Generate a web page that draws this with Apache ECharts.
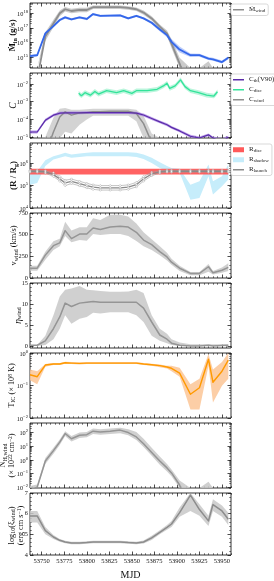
<!DOCTYPE html>
<html><head><meta charset="utf-8">
<script src="https://cdn.jsdelivr.net/npm/echarts@6/dist/echarts.min.js"></script>
<style>html,body{margin:0;padding:0;background:#fff}#c{width:274px;height:581px}</style>
</head><body><div id="c"></div>
<script>
// ================= DATA =================
const mjd = [53737,53745,53754,53763,53770,53776,53783,53792,53800,53807,53815,53826,53837,53846,53855,53863,53872,53881,53889,53894,53903,53915,53925,53935,53940,53950,53957];
const xTickLabels = [53750,53775,53800,53825,53850,53875,53900,53925,53950];

// Panel 1: log10 of mass flow rate (g/s)
const logMdotIn     = [15.05,15.12,16.62,17.12,17.54,17.72,17.58,17.72,17.61,17.95,17.82,17.84,17.86,17.65,17.82,17.65,17.35,16.89,16.50,16.04,15.51,15.12,15.12,14.89,14.84,14.65,14.95];
const logMdotInErr  = [0.1,0.1,0.1,0.08,0.08,0.1,0.08,0.08,0.08,0.08,0.08,0.08,0.08,0.08,0.08,0.08,0.1,0.12,0.15,0.2,0.2,0.12,0.1,0.1,0.1,0.1,0.1];
const logMdotWind   = [12.5,13.5,16.4,17.3,18.0,18.28,18.16,18.23,18.23,18.42,18.42,18.42,18.42,18.37,18.28,18.05,17.65,17.08,16.62,15.92,14.54,12.5,12.5,14.0,12.5,12.5,12.5];
const logMdotWindErr= [0.3,0.3,0.3,0.25,0.2,0.15,0.15,0.15,0.15,0.12,0.12,0.12,0.12,0.12,0.12,0.15,0.15,0.15,0.2,0.3,0.4,0.5,0.5,0.7,0.5,0.5,0.5];

// Panel 2: log10 of C
const logCth    = [-4.71,-4.71,-4.05,-3.76,-3.65,-3.63,-3.63,-3.63,-3.62,-3.62,-3.62,-3.62,-3.62,-3.62,-3.65,-3.75,-3.95,-4.14,-4.30,-4.45,-4.65,-4.95,-5.05,-4.87,-5.05,-5.3,-5.0];
const logCthErr = 0.08;
const mjdDisc   = [53791,53794,53798,53804,53809,53813,53822,53833,53841,53850,53855,53867,53878,53885,53889,53892,53898,53904,53906,53909,53915,53924,53933,53941,53943,53945];
const logCdisc  = [-2.53,-2.66,-2.49,-2.63,-2.42,-2.57,-2.38,-2.49,-2.38,-2.53,-2.38,-2.38,-2.30,-2.11,-1.96,-2.25,-2.11,-1.77,-1.92,-2.15,-2.38,-2.49,-2.63,-2.68,-2.57,-2.44];
const logCdiscErr = 0.13;
const logCwind   = [-7,-7,-6,-4.71,-3.86,-3.57,-3.76,-3.63,-3.63,-3.57,-3.57,-3.54,-3.54,-3.54,-3.67,-4.24,-5.3,-7,-7,-7,-7,-7,-7,-7,-7,-7,-7];
const logCwindHi = [-7,-7,-5,-3.9,-3.4,-3.35,-3.45,-3.45,-3.42,-3.4,-3.4,-3.4,-3.4,-3.4,-3.45,-3.8,-4.8,-7,-7,-7,-7,-7,-7,-7,-7,-7,-7];
const logCwindLo = [-7,-7,-7,-6,-5.5,-4.7,-4.8,-4.3,-4.0,-3.8,-3.8,-3.8,-3.8,-3.8,-4.1,-5.2,-6,-7,-7,-7,-7,-7,-7,-7,-7,-7,-7];

// Panel 3: log10 of R / R_g
const logRdiscLo = 5.49, logRdiscHi = 5.75;
const logRshadowLo = [5.04,5.12,5.87,6.16,6.24,6.31,6.24,6.28,6.31,6.31,6.31,6.31,6.31,6.31,6.28,6.19,6.01,5.79,5.64,5.60,5.57,4.37,4.45,5.42,4.60,4.97,5.27];
const logRshadowHi = [5.57,5.64,6.13,6.31,6.39,6.46,6.39,6.43,6.46,6.49,6.49,6.49,6.49,6.49,6.46,6.39,6.24,6.04,5.87,5.79,5.75,5.04,5.19,5.94,5.19,5.42,5.94];
const logRlaunch    = [5.64,5.64,5.61,5.49,5.30,5.12,5.19,5.09,5.00,4.93,4.90,4.90,4.90,4.93,5.04,5.30,5.52,5.61,5.64,5.64,5.64,5.64,5.64,5.64,5.64,5.64,5.64];
const logRlaunchErr = [0.04,0.04,0.05,0.08,0.1,0.12,0.1,0.1,0.1,0.1,0.1,0.1,0.1,0.1,0.1,0.1,0.08,0.05,0.04,0.04,0.04,0.04,0.04,0.04,0.04,0.04,0.04];

// Panel 4: v_wind (km/s)
const vWind   = [113,113,264,373,405,547,454,507,507,576,559,588,596,588,527,438,385,304,243,182,113,53,53,130,61,89,122];
const vWindHi = [140,140,304,425,454,649,547,585,585,689,669,730,730,710,628,527,446,365,292,223,142,70,70,162,81,122,170];
const vWindLo = [85,85,211,324,365,486,413,438,430,507,495,507,507,486,426,365,324,263,203,154,81,32,32,73,41,61,81];

// Panel 5: eta_wind
const etaWind   = [0.16,0.16,1.2,4.1,6.9,10.2,9.4,10.2,10.4,10.6,10.4,10.4,10.4,10.4,10.4,9.0,5.7,2.6,1.6,0.65,0.16,0.0,0.0,0.16,0.0,0.08,0.16];
const etaWindHi = [0.2,0.2,2.4,7.3,11.8,13.4,13.7,14.3,13.4,13.3,13.1,12.9,12.9,13.0,13.4,12.6,7.3,4.1,2.9,1.6,0.8,0.4,0.4,0.4,0.4,0.4,0.4];
const etaWindLo = [0,0,0.2,1.6,4.1,7.3,5.3,6.5,6.9,7.9,7.7,8.0,8.0,8.0,7.3,5.7,2.4,1.2,0.65,0.2,0,0,0,0,0,0,0];

// Panel 6: log10 of T_IC (x 1e8 K)
const logTic   = [-0.67,-0.73,-0.37,-0.34,-0.34,-0.30,-0.31,-0.32,-0.31,-0.31,-0.31,-0.31,-0.31,-0.31,-0.31,-0.34,-0.36,-0.39,-0.43,-0.47,-0.62,-1.27,-1.07,-0.19,-0.90,-0.56,-0.22];
const logTicHi = [-0.51,-0.56,-0.34,-0.31,-0.31,-0.27,-0.28,-0.29,-0.28,-0.28,-0.28,-0.28,-0.28,-0.28,-0.28,-0.31,-0.33,-0.35,-0.39,-0.39,-0.45,-0.96,-0.79,-0.03,-0.51,-0.28,0.0];
const logTicLo = [-0.84,-0.96,-0.42,-0.37,-0.37,-0.33,-0.34,-0.35,-0.34,-0.34,-0.34,-0.34,-0.34,-0.34,-0.34,-0.37,-0.39,-0.44,-0.48,-0.56,-0.73,-1.74,-1.74,-0.39,-1.52,-1.01,-0.79];

// Panel 7: log10 of N_H,wind (x 1e22 cm^-2)
const logNh   = [-2.2,-2.0,-0.08,0.68,1.3,1.93,1.55,1.8,1.85,2.1,2.05,2.1,2.18,2.0,1.68,1.18,0.55,-0.08,-0.58,-0.95,-1.83,-4,-4,-2.6,-4,-4,-4];
const logNhHi = [-1.9,-1.8,0.15,0.9,1.5,2.1,1.75,2.0,2.05,2.3,2.25,2.3,2.35,2.25,2.05,1.55,0.9,0.25,-0.3,-0.7,-1.5,-3,-3,-1.6,-3,-3,-3];
const logNhLo = [-2.5,-2.3,-0.3,0.45,1.1,1.75,1.35,1.6,1.65,1.9,1.85,1.9,1.95,1.8,1.45,0.95,0.3,-0.35,-0.85,-1.2,-2.2,-5,-5,-3.5,-5,-5,-5];

// Panel 8: log10(xi_wind) (erg cm s^-1)
const logXi   = [5.89,5.89,5.18,4.87,4.71,4.63,4.58,4.58,4.60,4.63,4.63,4.63,4.63,4.60,4.58,4.63,4.83,5.1,5.34,5.5,6.05,6.9,6.2,5.65,6.44,6.13,5.73];
const logXiHi = [6.13,6.13,5.35,4.97,4.78,4.69,4.64,4.64,4.66,4.69,4.69,4.69,4.69,4.66,4.64,4.70,4.93,5.2,5.45,5.65,6.3,7.3,6.45,5.9,6.7,6.4,6.05];
const logXiLo = [5.57,5.57,5.0,4.77,4.64,4.57,4.52,4.52,4.54,4.57,4.57,4.57,4.57,4.54,4.52,4.56,4.73,5.0,5.22,5.35,5.85,6.13,5.9,5.4,6.13,5.85,5.45];

// ================= LAYOUT / STYLE =================
const FONT = 'Liberation Serif';
const X_MIN = 53737, X_MAX = 53960;
const xMinor = []; for (let v = 53740; v <= X_MAX; v += 5) if (v % 25 !== 0) xMinor.push(v);

const RICH = {
  b:  {fontFamily: FONT, fontSize: 6.3, color: '#111', verticalAlign: 'bottom'},
  p:  {fontFamily: FONT, fontSize: 4.6, color: '#111', padding: [0, 0, 3.2, 0], verticalAlign: 'bottom'},
  s:  {fontFamily: FONT, fontSize: 6, color: '#111', padding: [3, 0, 0, 0], verticalAlign: 'top'},
  B:  {fontFamily: FONT, fontSize: 9, fontWeight: 'bold', color: '#111', verticalAlign: 'top'},
  Bs: {fontFamily: FONT, fontSize: 6, fontWeight: 'bold', color: '#111', padding: [4, 0, 0, 0], verticalAlign: 'top'},
  I:  {fontFamily: FONT, fontSize: 9.5, fontStyle: 'italic', color: '#111'},
  n:  {fontFamily: FONT, fontSize: 8.3, color: '#111', verticalAlign: 'top'},
  np: {fontFamily: FONT, fontSize: 5.5, color: '#111', padding: [0, 0, 4, 0], verticalAlign: 'top'}
};

// yTitleX: horizontal centre of the rotated y-axis title
const panels = [
  {yMin: 14.24, yMax: 18.71, kind: 'log', majors: [15,16,17,18], name: '{B|Ṁ}{Bs|in}{B| (g/s)}', yTitleX: 13},
  {yMin: -5.05, yMax: -1.38, kind: 'log', majors: [-5,-4,-3,-2], name: '{I|C}', yTitleX: 13},
  {yMin: 4, yMax: 6.9, kind: 'log', majors: [4,5,6], name: '{B|(R / R}{Bs|g}{B|)}', yTitleX: 14},
  {yMin: 0, yMax: 750, kind: 'lin', majors: [0,250,500,750], minorStep: 50, name: '{n|v}{s|wind}{n| (km/s)}', yTitleX: 14.5},
  {yMin: -0.5, yMax: 15, kind: 'lin', majors: [0,5,10,15], minorStep: 1, name: '{I|η}{s|wind}', yTitleX: 18.5},
  {yMin: -2, yMax: 0, kind: 'log', majors: [-2,-1,0], name: '{n|T}{s|IC}{n| (× 10}{np|8}{n| K)}', yTitleX: 12.5},
  {yMin: -2.05, yMax: 2.7, kind: 'log', majors: [-2,-1,0,1,2], name: '{n|N}{s|H,wind}\n{n|(× 10}{np|22}{n| cm}{np|−2}{n|)}', yTitleX: 8.5},
  {yMin: 4, yMax: 7, kind: 'lin', majors: [4,5,6,7], minorStep: 0.2, name: '{n|log}{s|10}{n|(ξ}{s|wind}{n|)}\n{n|(erg cm s}{np|−1}{n|)}', yTitleX: 17}
];

function minorsFor(p) {
  const out = [];
  if (p.kind === 'log') {
    for (let n = Math.floor(p.yMin) - 1; n <= Math.ceil(p.yMax); n++)
      for (let k = 2; k <= 9; k++) { const v = n + Math.log10(k); if (v > p.yMin && v < p.yMax) out.push(v); }
  } else {
    for (let v = Math.ceil(p.yMin / p.minorStep) * p.minorStep; v <= p.yMax + 1e-9; v += p.minorStep) {
      const r = Math.round(v * 1000) / 1000;
      if (!p.majors.some(m => Math.abs(m - r) < 1e-6)) out.push(r);
    }
  }
  return out;
}
const logFmt = v => { const n = Math.round(v); return '{b|10}{p|' + (n < 0 ? '−' + (-n) : n) + '}'; };
const linFmt = v => '{b|' + (Math.round(v * 100) / 100) + '}';

const grids = [], xAxes = [], yAxes = [], series = [], graphics = [];
const GL = 30, GW = 201, GH = 65, GT0 = 3, GS = 70;
const NOLINE = {show: false, onZero: false};

panels.forEach((p, gi) => {
  const top = GT0 + GS * gi;
  grids.push({left: GL, width: GW, top: top, height: GH, show: true, borderColor: '#000', borderWidth: 0.8, backgroundColor: 'transparent'});
  const xb = {type: 'value', gridIndex: gi, min: X_MIN, max: X_MAX, splitLine: {show: false}, axisLine: NOLINE};
  const xMaj = {show: true, inside: true, length: 3.5, customValues: xTickLabels, lineStyle: {color: '#000', width: 0.7}};
  const xMin = {show: true, inside: true, length: 1.8, customValues: xMinor, lineStyle: {color: '#000', width: 0.5}};
  const last = gi === panels.length - 1;
  xAxes.push(Object.assign({}, xb, {position: 'bottom', axisTick: xMaj,
    axisLabel: {show: last, customValues: xTickLabels, formatter: v => String(v), fontFamily: FONT, fontSize: 6.5, color: '#111', margin: 3},
    name: last ? 'MJD' : '', nameLocation: 'middle', nameGap: 15, nameMoveOverlap: false,
    nameTextStyle: {fontFamily: FONT, fontSize: 10, color: '#111'}}));
  xAxes.push(Object.assign({}, xb, {position: 'bottom', axisTick: xMin, axisLabel: {show: false}}));
  xAxes.push(Object.assign({}, xb, {position: 'top', axisTick: xMaj, axisLabel: {show: false}}));
  xAxes.push(Object.assign({}, xb, {position: 'top', axisTick: xMin, axisLabel: {show: false}}));

  const yb = {type: 'value', gridIndex: gi, min: p.yMin, max: p.yMax, splitLine: {show: false}, axisLine: NOLINE};
  const yMaj = {show: true, inside: true, length: 3.5, customValues: p.majors, lineStyle: {color: '#000', width: 0.7}};
  const yMin = {show: true, inside: true, length: 1.8, customValues: minorsFor(p), lineStyle: {color: '#000', width: 0.5}};
  yAxes.push(Object.assign({}, yb, {position: 'left', axisTick: yMaj,
    axisLabel: {show: true, customValues: p.majors, formatter: p.kind === 'log' ? logFmt : linFmt, margin: 2, rich: RICH}}));
  yAxes.push(Object.assign({}, yb, {position: 'left', axisTick: yMin, axisLabel: {show: false}}));
  yAxes.push(Object.assign({}, yb, {position: 'right', axisTick: yMaj, axisLabel: {show: false}}));
  yAxes.push(Object.assign({}, yb, {position: 'right', axisTick: yMin, axisLabel: {show: false}}));

  // y-axis title as rotated text
  graphics.push({type: 'text', x: p.yTitleX, y: top + GH / 2, rotation: Math.PI / 2, silent: true,
    style: {text: p.name, rich: RICH, fontFamily: FONT, fontSize: 8.3, fill: '#111', align: 'center', verticalAlign: 'middle'}});
});

function band(gi, name, xs, lo, hi, color, opacity, z) {
  return {
    type: 'custom', name: name, xAxisIndex: 4 * gi, yAxisIndex: 4 * gi, silent: true, z: z || 1,
    itemStyle: {color: color},
    data: xs.map((x, k) => [x, lo[k], hi[k]]),
    encode: {x: 0, y: [1, 2]},
    renderItem: function (params, api) {
      if (params.dataIndexInside !== 0) return null;
      const n = params.dataInsideLength, cs = params.coordSys;
      const cy = y => Math.min(Math.max(y, cs.y), cs.y + cs.height);
      const top = [], bot = [];
      for (let k = 0; k < n; k++) {
        const x = api.value(0, k);
        const a = api.coord([x, api.value(2, k)]);
        const b = api.coord([x, api.value(1, k)]);
        top.push([a[0], cy(a[1])]);
        bot.push([b[0], cy(b[1])]);
      }
      return {type: 'polygon', shape: {points: top.concat(bot.reverse())}, style: {fill: color, opacity: opacity}};
    }
  };
}
function line(gi, name, xs, ys, color, width, z) {
  return {type: 'line', name: name, xAxisIndex: 4 * gi, yAxisIndex: 4 * gi, data: xs.map((x, k) => [x, ys[k]]),
    symbol: 'none', showSymbol: false, symbolSize: 0, lineStyle: {color: color, width: width, join: 'round'}, itemStyle: {color: color},
    z: z || 3, silent: true, clip: true};
}
const pm = (a, e, s) => a.map((v, k) => v + s * (Array.isArray(e) ? e[k] : e));

// Panel 1
series.push(band(0, 'MwindBand', mjd, pm(logMdotWind, logMdotWindErr, -1), pm(logMdotWind, logMdotWindErr, 1), '#a8a8a8', 0.6, 1));
series.push(band(0, 'MinBand', mjd, pm(logMdotIn, logMdotInErr, -1), pm(logMdotIn, logMdotInErr, 1), '#3b6cf0', 0.35, 2));
series.push(line(0, 'Mwind', mjd, logMdotWind, '#8e8e8e', 1.8, 3));
series.push(line(0, 'Min', mjd, logMdotIn, '#3467ea', 1.8, 4));
// Panel 2
series.push(band(1, 'CwindBand', mjd, logCwindLo, logCwindHi, '#b5b5b5', 0.6, 1));
series.push(band(1, 'CthBand', mjd, pm(logCth, logCthErr, -1), pm(logCth, logCthErr, 1), '#9b6fe0', 0.65, 2));
series.push(band(1, 'CdiscBand', mjdDisc, pm(logCdisc, logCdiscErr, -1), pm(logCdisc, logCdiscErr, 1), '#3de39a', 0.35, 2));
series.push(line(1, 'Cth', mjd, logCth, '#5a2ca8', 1.2, 4));
series.push(line(1, 'Cdisc', mjdDisc, logCdisc, '#33e39a', 1.3, 4));
series.push(line(1, 'Cwind', mjd, logCwind, '#8e8e8e', 1.5, 3));
// Panel 3
series.push(band(2, 'Rshadow', mjd, logRshadowLo, logRshadowHi, '#c6edfb', 1, 1));
series.push(band(2, 'Rdisc', mjd, mjd.map(() => logRdiscLo), mjd.map(() => logRdiscHi), '#ff5a5a', 0.95, 2));
const rlLo = pm(logRlaunch, logRlaunchErr, -1), rlHi = pm(logRlaunch, logRlaunchErr, 1);
series.push(line(2, 'RlaunchLo', mjd, rlLo, '#a0a0a0', 0.6, 3));
series.push(line(2, 'RlaunchHi', mjd, rlHi, '#a0a0a0', 0.6, 3));
series.push(line(2, 'Rlaunch', mjd, logRlaunch, '#8a8a8a', 1.3, 4));
const launchPts = [];
mjd.forEach((x, k) => { launchPts.push([x, rlLo[k]], [x, rlHi[k]], [x, logRlaunch[k]]); });
series.push({type: 'scatter', name: 'RlaunchPts', xAxisIndex: 8, yAxisIndex: 8, data: launchPts,
  symbol: 'diamond', symbolSize: 2.5, itemStyle: {color: '#ffffff', borderColor: '#999', borderWidth: 0.5}, z: 5, silent: true});
// Panel 4
series.push(band(3, 'vBand', mjd, vWindLo, vWindHi, '#c8c8c8', 0.85, 1));
series.push(line(3, 'v', mjd, vWind, '#959595', 1.5, 3));
// Panel 5
series.push(band(4, 'etaBand', mjd, etaWindLo, etaWindHi, '#c8c8c8', 0.85, 1));
series.push(line(4, 'eta', mjd, etaWind, '#959595', 1.5, 3));
// Panel 6
series.push(band(5, 'TBand', mjd, logTicLo, logTicHi, '#fbc596', 0.85, 1));
series.push(line(5, 'T', mjd, logTic, '#ff9a00', 1.4, 3));
// Panel 7
series.push(band(6, 'NhBand', mjd, logNhLo, logNhHi, '#c8c8c8', 0.85, 1));
series.push(line(6, 'Nh', mjd, logNh, '#959595', 1.5, 3));
// Panel 8
series.push(band(7, 'XiBand', mjd, logXiLo, logXiHi, '#c8c8c8', 0.85, 1));
series.push(line(7, 'Xi', mjd, logXi, '#8c8c8c', 1.5, 3));

const LEG_TEXT = {
  Mwind: '{i|Ṁ}{s|wind}', Cth: '{i|C}{s|th}{i|(V90)}', Cdisc: '{i|C}{s|disc}', Cwind: '{i|C}{s|wind}',
  Rdisc: '{i|R}{s|disc}', Rshadow: '{i|R}{s|shadow}', Rlaunch: '{i|R}{s|launch}'
};
const LEG_RICH = {
  i: {fontFamily: FONT, fontSize: 7, color: '#222', verticalAlign: 'top'},
  s: {fontFamily: FONT, fontSize: 5, color: '#222', padding: [2.5, 0, 0, 0], verticalAlign: 'top'}
};
const LINE_ICON = 'path://M0,0H22V3H0Z';
const li = n => ({name: n, icon: LINE_ICON});
function legend(top, data) {
  return {orient: 'vertical', left: 231, top: top, data: data, itemWidth: 11, itemHeight: 5, itemGap: 2.5,
    padding: [2, 3, 2, 2], borderColor: '#cfcfcf', borderWidth: 0.8, borderRadius: 2, backgroundColor: '#fff',
    selectedMode: false, formatter: n => LEG_TEXT[n], textStyle: {fontFamily: FONT, fontSize: 7, color: '#222', rich: LEG_RICH},
    lineStyle: {width: 1.5}};
}

const option = {
  animation: false,
  grid: grids, xAxis: xAxes, yAxis: yAxes, series: series, graphic: graphics,
  legend: [
    legend(4, [li('Mwind')]),
    legend(74, [li('Cth'), li('Cdisc'), li('Cwind')]),
    legend(144, [{name: 'Rdisc', icon: 'rect'}, {name: 'Rshadow', icon: 'rect'}, li('Rlaunch')])
  ]
};
const chart = echarts.init(document.getElementById('c'), null, {renderer: 'canvas', width: 274, height: 581});
chart.setOption(option);
</script></body></html>
